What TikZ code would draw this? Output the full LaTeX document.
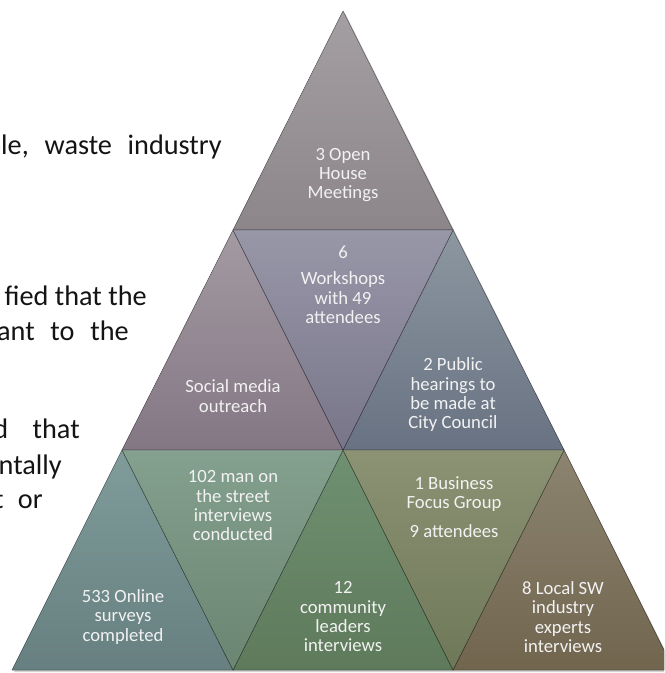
\documentclass[tikz,border=0pt]{standalone}
\usepackage{fontspec}
\setmainfont{Carlito}
\usetikzlibrary{shadows}

\definecolor{openA}{HTML}{A49FA3}
\definecolor{openB}{HTML}{8C868A}
\definecolor{socialA}{HTML}{A39AA2}
\definecolor{socialB}{HTML}{847784}
\definecolor{workA}{HTML}{9897A8}
\definecolor{workB}{HTML}{787589}
\definecolor{publicA}{HTML}{8C97A1}
\definecolor{publicB}{HTML}{687282}
\definecolor{onlineA}{HTML}{7F9C9B}
\definecolor{onlineB}{HTML}{677F80}
\definecolor{streetA}{HTML}{84A08E}
\definecolor{streetB}{HTML}{6A8672}
\definecolor{leaderA}{HTML}{6F9171}
\definecolor{leaderB}{HTML}{5E7A5B}
\definecolor{busiA}{HTML}{8C9274}
\definecolor{busiB}{HTML}{6E7858}
\definecolor{localA}{HTML}{8C8470}
\definecolor{localB}{HTML}{71654E}

\tikzset{
  piece/.style={draw=black, draw opacity=0.22, line width=0.6pt, line join=round},
  pyrtext/.style={text=white!95!black, align=center, inner sep=0pt,
    font=\fontsize{14}{14.5}\selectfont},
  bodytext/.style={text=black!92, inner sep=0pt, font=\fontsize{21.2}{25}\selectfont}
}

\begin{document}
\begin{tikzpicture}[x=0.75pt,y=-0.75pt]
%%%%% START %%%%%
\clip (0,0) rectangle (664,673);
\fill[white] (0,0) rectangle (664,673);

% text running beside the pyramid
\node[bodytext, anchor=base east] (lineA) at (222,155) {ple,\hspace{7pt} waste\hspace{7pt} industry};
\node[bodytext, anchor=base east] (lineB) at (147,305) {fied that the};
\node[bodytext, anchor=base east] (lineC) at (129,340) {ant\hspace{7pt} to\hspace{7pt} the};
\node[bodytext, anchor=base east] (lineD) at (80,438) {d\hspace{13.5pt} that};
\node[bodytext, anchor=base east] (lineE) at (62,474) {ntally};
\node[bodytext, anchor=base east] (lineF) at (43,508) {t\hspace{6pt} or};

% shadow of the whole pyramid
\fill[white, drop shadow={shadow xshift=1.5pt, shadow yshift=-1.5pt, opacity=0.35}]
  (343,11) -- (674,670) -- (12,670) -- cycle;

% top row
\fill[piece, top color=openA, bottom color=openB] (343,11) -- (453,230) -- (233,230) -- cycle;

% middle row
\fill[piece, top color=socialA, bottom color=socialB] (233,230) -- (343,450) -- (122,450) -- cycle;
\fill[piece, top color=publicA, bottom color=publicB] (453,230) -- (564,450) -- (343,450) -- cycle;
\fill[piece, top color=workA, bottom color=workB] (233,230) -- (453,230) -- (343,450) -- cycle;

% bottom row
\fill[piece, top color=onlineA, bottom color=onlineB] (122,450) -- (233,670) -- (12,670) -- cycle;
\fill[piece, top color=leaderA, bottom color=leaderB] (343,450) -- (453,670) -- (233,670) -- cycle;
\fill[piece, top color=localA, bottom color=localB] (564,450) -- (674,670) -- (453,670) -- cycle;
\fill[piece, top color=streetA, bottom color=streetB] (122,450) -- (343,450) -- (233,670) -- cycle;
\fill[piece, top color=busiA, bottom color=busiB] (343,450) -- (564,450) -- (453,670) -- cycle;

% labels
\node[pyrtext] (open) at (343,175) {3 Open\\House\\Meetings};
\node[pyrtext] (work) at (343,285) {6\\[5pt]Workshops\\with 49\\attendees};
\node[pyrtext] (social) at (233,396) {Social media\\outreach};
\node[pyrtext] (public) at (453,395) {2 Public\\hearings to\\be made at\\City Council};
\node[pyrtext] (street) at (233,506) {102 man on\\the street\\interviews\\conducted};
\node[pyrtext] (busi) at (454,507) {1 Business\\Focus Group\\[7pt]9 attendees};
\node[pyrtext] (online) at (123,617) {533 Online\\surveys\\completed};
\node[pyrtext] (leader) at (343,617) {12\\community\\leaders\\interviews};
\node[pyrtext] (local) at (563,617) {8 Local SW\\industry\\experts\\interviews};
%%%%% END %%%%%
\end{tikzpicture}
\end{document}
